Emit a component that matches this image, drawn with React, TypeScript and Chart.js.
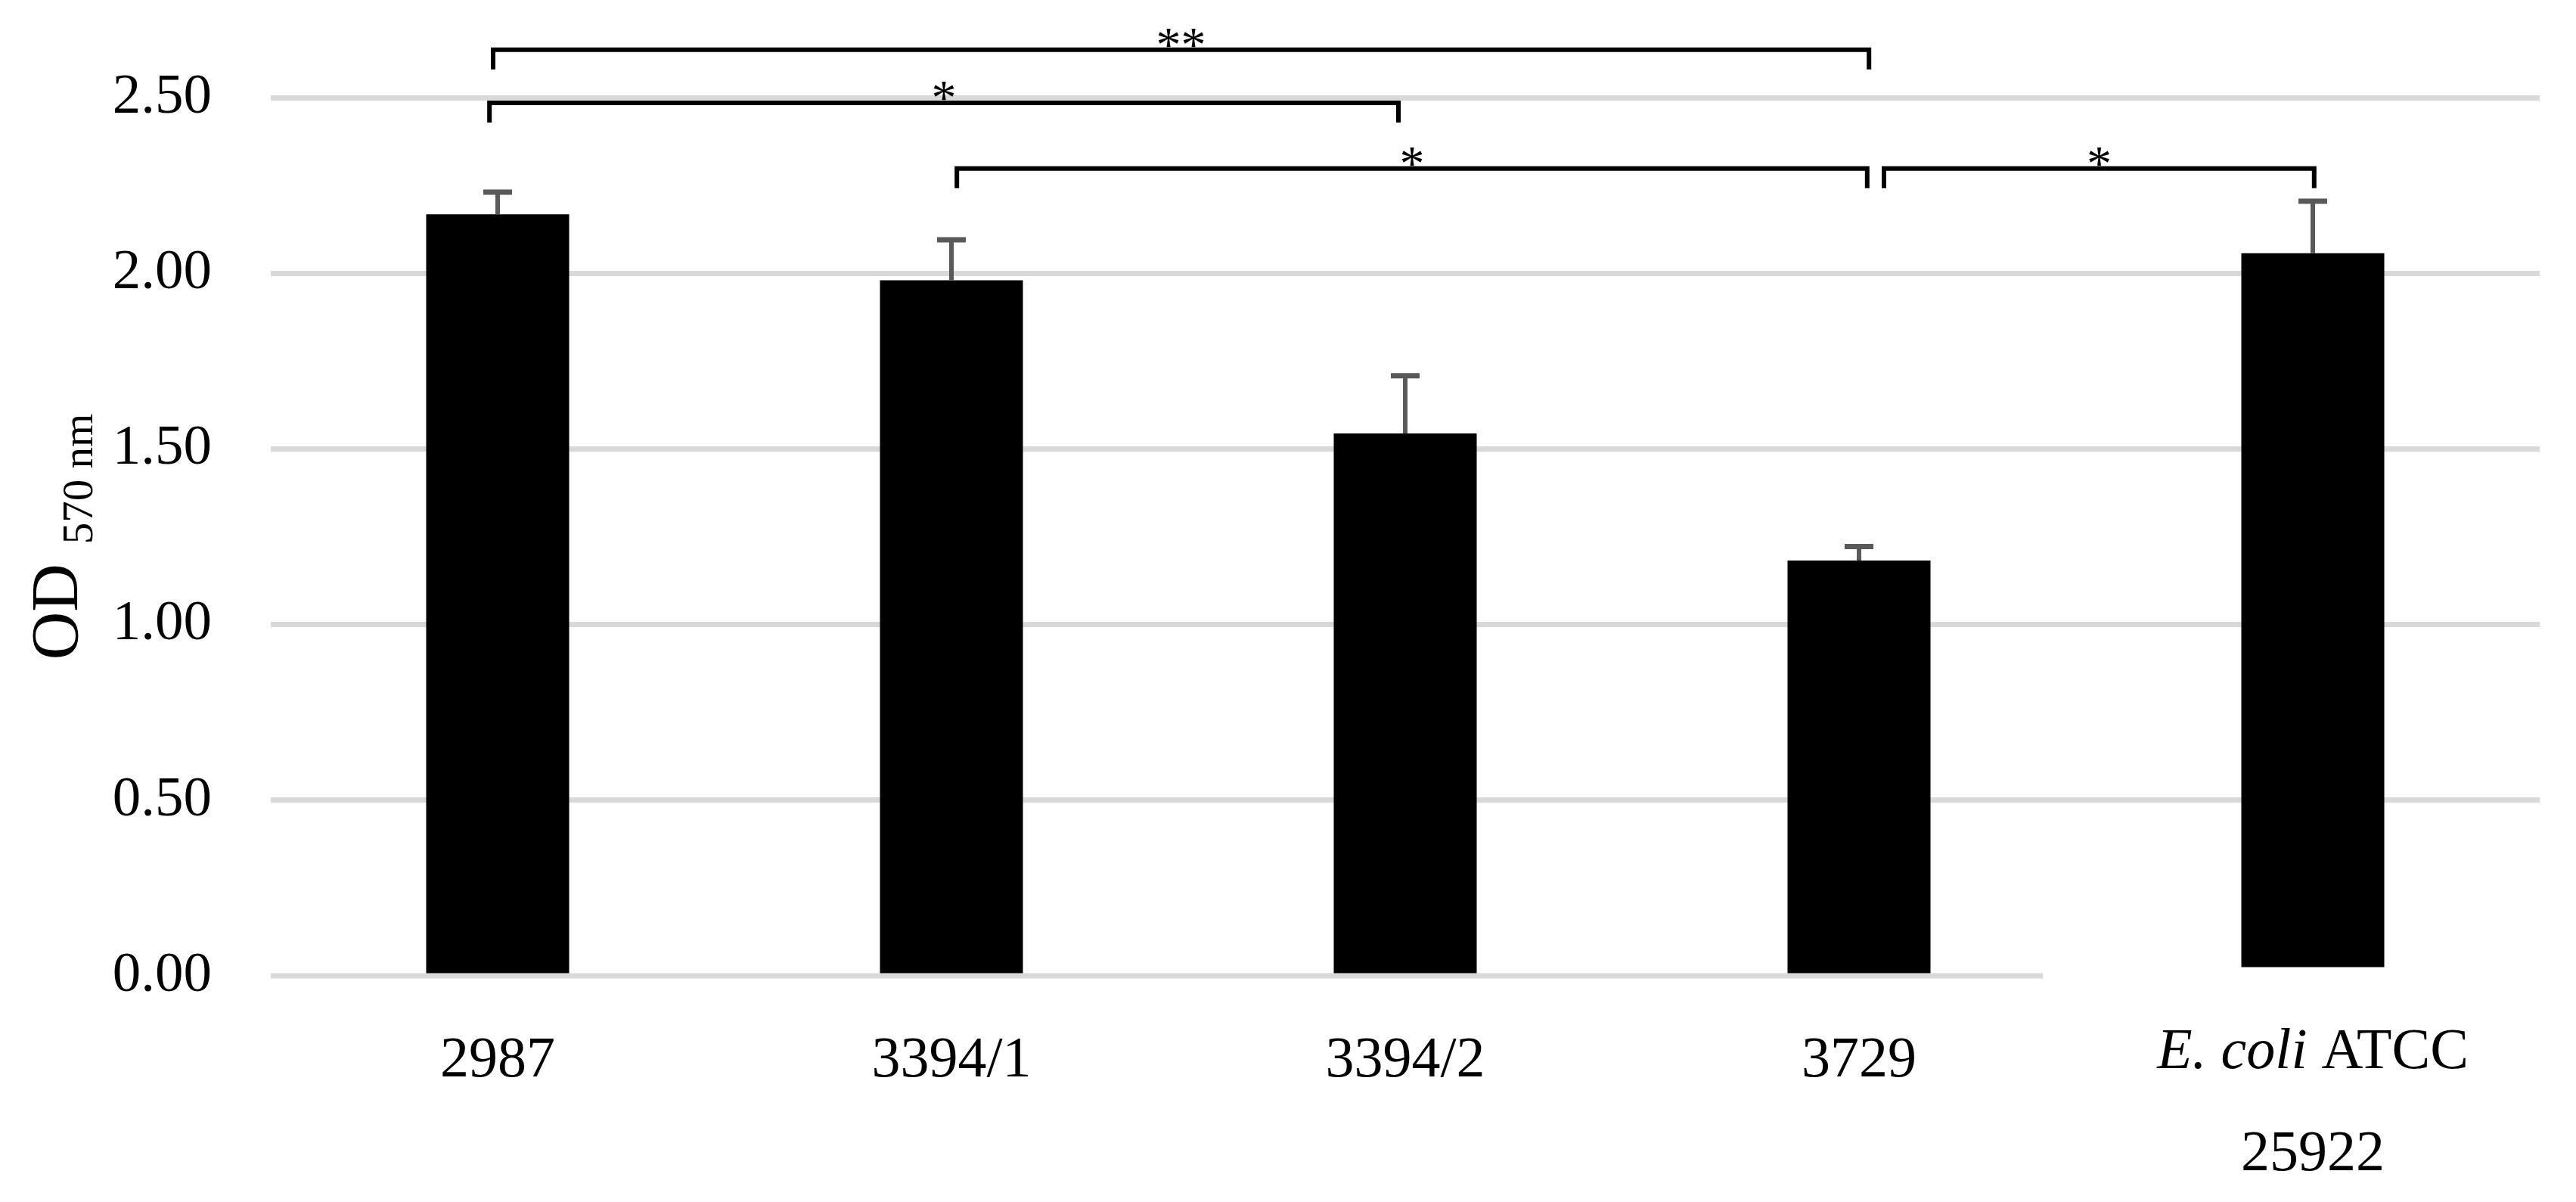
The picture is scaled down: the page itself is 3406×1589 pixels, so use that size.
import React, { useEffect, useRef } from 'react';
import { Chart, registerables } from 'chart.js';

Chart.register(...registerables);

// ---- data ----
const categories = ['2987', '3394/1', '3394/2', '3729', 'E. coli ATCC 25922'];
const labelLines = [['2987'], ['3394/1'], ['3394/2'], ['3729'], ['E. coli ATCC', '25922']];
const italicPrefix = 'E. coli';
const odValues = [2.168, 1.98, 1.544, 1.182, 2.057];
const barBase = [0, 0, 0, 0, 0.025];
const errPlus = [0.063, 0.115, 0.164, 0.04, 0.148];
const yMin = 0;
const yMax = 2.5;
const yStep = 0.5;
const bracketFrom = [0, 0, 1, 3];
const bracketTo = [3, 2, 3, 4];
const bracketLevel = [2.636, 2.485, 2.298, 2.298];
const bracketLabel = ['**', '*', '*', '*'];
const yTitleMain = 'OD';
const yTitleSub = '570 nm';

const FONT = '"Liberation Serif", "Times New Roman", serif';

const overlay = {
  id: 'overlay',
  beforeDatasetsDraw(chart: any) {
    const { ctx, chartArea, scales } = chart;
    const x = scales.x;
    const y = scales.y;
    const step = x.getPixelForValue(1) - x.getPixelForValue(0);
    const y0 = y.getPixelForValue(0);
    ctx.save();
    ctx.strokeStyle = '#d9d9d9';
    ctx.lineWidth = 7;
    ctx.beginPath();
    ctx.moveTo(chartArea.left, y0);
    ctx.lineTo(x.getPixelForValue(3) + 0.405 * step, y0);
    ctx.stroke();
    ctx.restore();
  },
  afterDatasetsDraw(chart: any) {
    const { ctx, chartArea, scales } = chart;
    const x = scales.x;
    const y = scales.y;
    const step = x.getPixelForValue(1) - x.getPixelForValue(0);
    ctx.save();

    // error bars (plus direction)
    ctx.strokeStyle = '#595959';
    ctx.lineCap = 'butt';
    odValues.forEach((v, i) => {
      const cx = x.getPixelForValue(i);
      const yBar = y.getPixelForValue(v);
      const yTop = y.getPixelForValue(v + errPlus[i]);
      ctx.lineWidth = 6;
      ctx.beginPath();
      ctx.moveTo(cx, yBar);
      ctx.lineTo(cx, yTop);
      ctx.stroke();
      ctx.lineWidth = 7;
      ctx.beginPath();
      ctx.moveTo(cx - 19, yTop);
      ctx.lineTo(cx + 19, yTop);
      ctx.stroke();
    });

    // significance brackets
    const fromShift = [-0.01, -0.018, 0.012, 0.055];
    const toShift = [0.022, -0.015, 0.018, 0.003];
    ctx.strokeStyle = '#000';
    ctx.fillStyle = '#000';
    ctx.lineWidth = 6;
    ctx.lineJoin = 'miter';
    bracketFrom.forEach((f, i) => {
      const x1 = x.getPixelForValue(f) + fromShift[i] * step;
      const x2 = x.getPixelForValue(bracketTo[i]) + toShift[i] * step;
      const ly = y.getPixelForValue(bracketLevel[i]);
      const drop = 26;
      ctx.beginPath();
      ctx.moveTo(x1, ly + drop);
      ctx.lineTo(x1, ly);
      ctx.lineTo(x2, ly);
      ctx.lineTo(x2, ly + drop);
      ctx.stroke();
      ctx.font = `66px ${FONT}`;
      ctx.textAlign = 'center';
      ctx.textBaseline = 'alphabetic';
      const m = ctx.measureText(bracketLabel[i]);
      const base = ly - 3 - m.actualBoundingBoxDescent;
      ctx.fillText(bracketLabel[i], (x1 + x2) / 2, base);
    });

    // x labels
    const bottom = chartArea.bottom;
    ctx.textBaseline = 'alphabetic';
    ctx.textAlign = 'left';
    ctx.fillStyle = '#000';
    labelLines.forEach((lines, i) => {
      const cx = x.getPixelForValue(i);
      const first = bottom + (lines.length > 1 ? 122 : 133);
      lines.forEach((line, k) => {
        const by = first + k * 135;
        let itPart = '';
        let rest = line;
        if (line.startsWith(italicPrefix)) {
          itPart = italicPrefix;
          rest = line.slice(italicPrefix.length);
        }
        ctx.font = `italic 76px ${FONT}`;
        const wi = itPart ? ctx.measureText(itPart).width : 0;
        ctx.font = `76px ${FONT}`;
        const wr = ctx.measureText(rest).width;
        let sx = cx - (wi + wr) / 2;
        if (itPart) {
          ctx.font = `italic 76px ${FONT}`;
          ctx.fillText(itPart, sx, by);
          sx += wi;
        }
        ctx.font = `76px ${FONT}`;
        ctx.fillText(rest, sx, by);
      });
    });

    // y title with subscript
    ctx.font = `88px ${FONT}`;
    const wMain = ctx.measureText(yTitleMain).width;
    ctx.font = `57px ${FONT}`;
    const wSub = ctx.measureText(yTitleSub).width;
    const gap = 26;
    const total = wMain + gap + wSub;
    const cy = (chartArea.top + chartArea.bottom) / 2;
    ctx.translate(102, cy + total / 2);
    ctx.rotate(-Math.PI / 2);
    ctx.textAlign = 'left';
    ctx.font = `88px ${FONT}`;
    ctx.fillText(yTitleMain, 0, 0);
    ctx.font = `57px ${FONT}`;
    ctx.fillText(yTitleSub, wMain + gap, 20);

    ctx.restore();
  },
};

export default function App() {
  const ref = useRef<HTMLCanvasElement | null>(null);
  useEffect(() => {
    document.body.style.margin = '0';
    document.body.style.overflow = 'hidden';
    const canvas = ref.current;
    if (!canvas) return;
    const chart = new Chart(canvas, {
      type: 'bar',
      data: {
        labels: categories,
        datasets: [
          {
            data: odValues.map((v, i) => [barBase[i], v]) as any,
            backgroundColor: '#000000',
            borderWidth: 0,
            categoryPercentage: 1,
            barPercentage: 0.315,
          },
        ],
      },
      options: {
        responsive: false,
        animation: false,
        devicePixelRatio: 1,
        layout: { padding: { top: 129, right: 48, left: 0, bottom: 0 } },
        plugins: { legend: { display: false }, tooltip: { enabled: false } },
        scales: {
          x: {
            type: 'category',
            offset: true,
            grid: { display: false },
            border: { display: false },
            ticks: { display: false },
            afterFit: (s: any) => {
              s.height = 299;
            },
          },
          y: {
            min: yMin,
            max: yMax,
            grid: {
              color: (c: any) => (c.tick && c.tick.value === 0 ? 'rgba(0,0,0,0)' : '#d9d9d9'),
              lineWidth: 7,
              drawTicks: false,
            },
            border: { display: false },
            ticks: {
              stepSize: yStep,
              padding: 78,
              color: '#000',
              font: { family: FONT, size: 75 },
              callback: (v: any) => Number(v).toFixed(2),
            },
            afterFit: (s: any) => {
              s.width = 358;
            },
          },
        },
      },
      plugins: [overlay],
    });
    return () => chart.destroy();
  }, []);
  return (
    <canvas
      ref={ref}
      width={3406}
      height={1589}
      style={{ display: 'block', width: '3406px', height: '1589px' }}
    />
  );
}
